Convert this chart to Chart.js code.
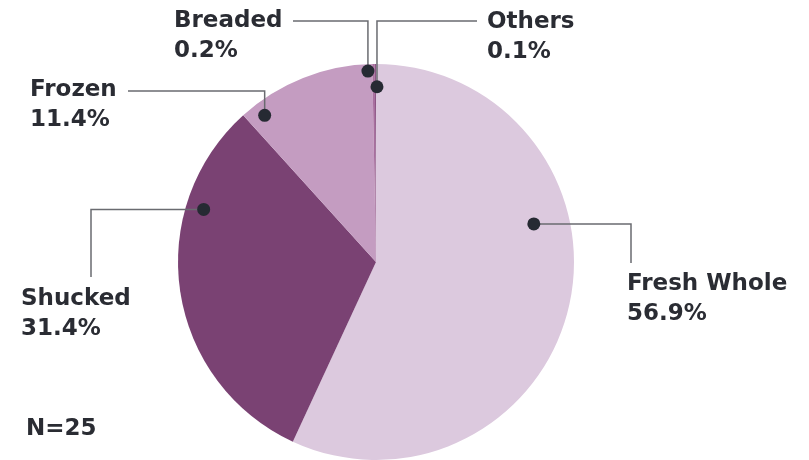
<!DOCTYPE html>
<html>
<head>
<meta charset="utf-8">
<script src="https://cdn.jsdelivr.net/npm/chart.js@4"></script>
<style>
  html, body { margin: 0; padding: 0; background: #fff; }
  #wrap { width: 809px; height: 460px; }
</style>
</head>
<body>
<div id="wrap"><canvas id="pie" width="809" height="460"></canvas></div>
<script>
// ---- data ----
const categories = ['Fresh Whole', 'Shucked', 'Frozen', 'Breaded', 'Others'];
const shares = [56.9, 31.4, 11.4, 0.2, 0.1];
const sliceColors = ['#dcc9de', '#7a4273', '#c49cc1', '#a86f9f', '#8d5585'];
const sampleNote = 'N=25';

// ---- callout layout (dot offset from slice middle, leader elbow, label spot) ----
const callouts = [
  { off: -26.0, rf: 0.82, path: 'hv', ex: 631, ey: 263, tx: 627, ty: 290 },
  { off: 25.6, rf: 0.91, path: 'hv', ex: 91, ey: 277, tx: 21, ty: 305 },
  { off: -15.6, rf: 0.93, path: 'vh', ex: 128, ey: 91, tx: 30, ty: 96 },
  { off: -1.7, rf: 0.965, path: 'vh', ex: 293, ey: 21, tx: 174, ty: 27 },
  { off: 0.5, rf: 0.885, path: 'vh', ex: 477, ey: 21, tx: 487, ty: 28 },
];

const FONT = 'bold 23px "DejaVu Sans"';
const INK = '#2a2c33';

const calloutPlugin = {
  id: 'callouts',
  afterDraw(chart) {
    const ctx = chart.ctx;
    const arcs = chart.getDatasetMeta(0).data;
    ctx.save();
    arcs.forEach((arc, i) => {
      const c = callouts[i];
      const mid = (arc.startAngle + arc.endAngle) / 2 + c.off * Math.PI / 180;
      const r = arc.outerRadius * c.rf;
      const dx = arc.x + r * Math.cos(mid);
      const dy = arc.y + r * Math.sin(mid);

      // leader line
      ctx.strokeStyle = '#6a6b70';
      ctx.lineWidth = 1.5;
      ctx.beginPath();
      ctx.moveTo(dx, dy);
      if (c.path === 'hv') {
        ctx.lineTo(c.ex, dy);
        ctx.lineTo(c.ex, c.ey);
      } else {
        ctx.lineTo(dx, c.ey);
        ctx.lineTo(c.ex, c.ey);
      }
      ctx.stroke();

      // dot
      ctx.fillStyle = '#262a33';
      ctx.beginPath();
      ctx.arc(dx, dy, 6.5, 0, Math.PI * 2);
      ctx.fill();

      // label
      ctx.fillStyle = INK;
      ctx.font = FONT;
      ctx.textAlign = 'left';
      ctx.textBaseline = 'alphabetic';
      ctx.fillText(categories[i], c.tx, c.ty);
      ctx.fillText(shares[i].toFixed(1) + '%', c.tx, c.ty + 30);
    });

    ctx.fillStyle = INK;
    ctx.font = FONT;
    ctx.fillText(sampleNote, 26, 435);
    ctx.restore();
  }
};

new Chart(document.getElementById('pie'), {
  type: 'pie',
  data: {
    labels: categories,
    datasets: [{
      data: shares,
      backgroundColor: sliceColors,
      borderWidth: 0,
    }]
  },
  options: {
    responsive: false,
    animation: false,
    layout: { padding: { left: 178, right: 235, top: 64, bottom: 0 } },
    plugins: { legend: { display: false }, tooltip: { enabled: false } }
  },
  plugins: [calloutPlugin]
});
</script>
</body>
</html>
